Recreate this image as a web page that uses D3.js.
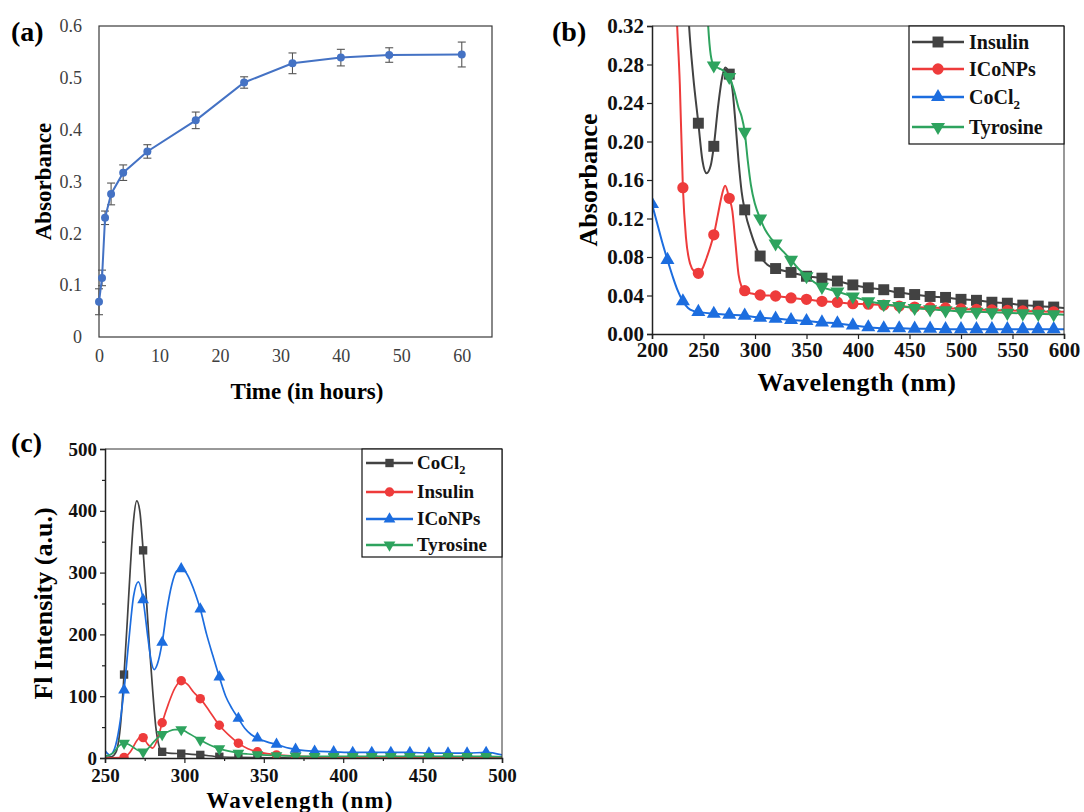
<!DOCTYPE html>
<html>
<head>
<meta charset="utf-8">
<script src="https://cdn.jsdelivr.net/npm/d3@7"></script>
<style>
  body { margin: 0; background: #fff; }
  text { font-family: "Liberation Serif", "Times New Roman", serif; }
</style>
</head>
<body>
<script>
// (a) absorbance vs time
const timeHours = [0, 0.5, 1, 2, 4, 8, 16, 24, 32, 40, 48, 60];
const absTime = [0.068, 0.114, 0.230, 0.276, 0.317, 0.358, 0.418, 0.491, 0.528, 0.539, 0.544, 0.545];
const absErr = [0.025, 0.015, 0.013, 0.021, 0.015, 0.013, 0.016, 0.011, 0.02, 0.016, 0.014, 0.024];
const timeTicks = [0, 10, 20, 30, 40, 50, 60];
const absTimeTicks = [0, 0.1, 0.2, 0.3, 0.4, 0.5, 0.6];

// (b) UV-vis spectra
const uvInsulinWl = [230, 233, 236, 240, 245, 249, 253, 257, 260, 264, 268, 271, 275, 278, 281, 284, 287, 290, 297, 305, 312, 320, 335, 350, 365, 380, 395, 410, 425, 440, 455, 470, 485, 500, 515, 530, 545, 560, 575, 590, 600];
const uvInsulinAbs = [0.46, 0.38, 0.32, 0.268, 0.219, 0.18, 0.167, 0.175, 0.195, 0.235, 0.266, 0.277, 0.27, 0.255, 0.22, 0.18, 0.148, 0.129, 0.102, 0.081, 0.072, 0.068, 0.064, 0.06, 0.058, 0.055, 0.051, 0.048, 0.046, 0.043, 0.041, 0.039, 0.038, 0.036, 0.035, 0.033, 0.032, 0.030, 0.029, 0.028, 0.027];
const uvIconpWl = [221, 224, 227, 230, 233, 237, 241, 245, 249, 253, 257, 260, 264, 268, 271, 275, 278, 281, 284, 287, 290, 297, 305, 320, 335, 350, 365, 380, 395, 410, 425, 440, 455, 470, 485, 500, 515, 530, 545, 560, 575, 590, 600];
const uvIconpAbs = [0.42, 0.33, 0.26, 0.152, 0.1, 0.073, 0.065, 0.063, 0.068, 0.079, 0.092, 0.103, 0.124, 0.145, 0.154, 0.141, 0.128, 0.095, 0.062, 0.049, 0.045, 0.042, 0.0405, 0.0395, 0.0375, 0.036, 0.034, 0.033, 0.0315, 0.031, 0.030, 0.029, 0.028, 0.0275, 0.027, 0.026, 0.0255, 0.025, 0.0245, 0.024, 0.0235, 0.023, 0.023];
const uvCoclWl = [200, 205, 210, 215, 220, 225, 230, 235, 240, 245, 260, 275, 290, 305, 320, 335, 350, 365, 380, 395, 410, 425, 440, 455, 470, 485, 500, 515, 530, 545, 560, 575, 590, 600];
const uvCoclAbs = [0.135, 0.115, 0.095, 0.077, 0.06, 0.045, 0.034, 0.027, 0.024, 0.023, 0.021, 0.020, 0.019, 0.017, 0.016, 0.0145, 0.0135, 0.012, 0.011, 0.009, 0.007, 0.006, 0.006, 0.0055, 0.0055, 0.005, 0.005, 0.005, 0.005, 0.005, 0.005, 0.005, 0.005, 0.005];
const uvTyrWl = [250, 254, 257, 260, 265, 270, 275, 280, 284, 287, 290, 293, 296, 300, 305, 310, 315, 320, 328, 335, 342, 350, 365, 380, 395, 410, 425, 440, 455, 470, 485, 500, 515, 530, 545, 560, 575, 590, 600];
const uvTyrAbs = [0.44, 0.33, 0.29, 0.279, 0.276, 0.273, 0.267, 0.252, 0.235, 0.226, 0.21, 0.18, 0.155, 0.135, 0.12, 0.108, 0.1, 0.094, 0.085, 0.077, 0.068, 0.06, 0.049, 0.044, 0.039, 0.034, 0.031, 0.029, 0.027, 0.0256, 0.0246, 0.0235, 0.023, 0.0225, 0.022, 0.0215, 0.021, 0.0205, 0.02];
const uvMarkWl = [200, 215, 230, 245, 260, 275, 290, 305, 320, 335, 350, 365, 380, 395, 410, 425, 440, 455, 470, 485, 500, 515, 530, 545, 560, 575, 590];
const uvWlTicks = [200, 250, 300, 350, 400, 450, 500, 550, 600];
const uvAbsTicks = [0, 0.04, 0.08, 0.12, 0.16, 0.20, 0.24, 0.28, 0.32];

// (c) fluorescence spectra
const flCoclWl = [250, 254, 257, 260, 262, 264, 266, 268, 270, 272, 274, 276, 278, 280, 282, 284, 286, 290, 298, 310, 322, 334, 346, 358, 370, 382, 394, 406, 418, 430, 442, 454, 466, 478, 490, 500];
const flCocl = [1, 2, 10, 60, 135, 220, 310, 385, 416, 398, 336, 260, 180, 110, 50, 20, 10, 8, 7, 5, 2, 1, 0.5, 0.3, 0, 0, 0, 0, 0, 0, 0, 0, 0, 0, 0, 0];
const flInsulinWl = [250, 262, 266, 270, 273, 274, 277, 280, 283, 286, 290, 294, 298, 302, 306, 310, 316, 322, 328, 334, 340, 346, 352, 358, 370, 382, 394, 406, 418, 430, 442, 454, 466, 478, 490, 500];
const flInsulin = [0, 1, 10, 28, 35, 33, 22, 16, 30, 57, 88, 113, 125, 119, 106, 96, 75, 53, 37, 24, 15, 10, 7, 5, 3, 2, 1.5, 1.5, 1.5, 1.5, 1.5, 1.5, 1.5, 1.5, 1.5, 1];
const flIconpWl = [250, 253, 256, 259, 262, 265, 268, 271, 274, 277, 279, 281, 283, 286, 289, 292, 295, 298, 301, 304, 307, 310, 314, 318, 322, 326, 330, 334, 338, 342, 346, 352, 358, 364, 370, 376, 382, 394, 406, 418, 430, 442, 454, 466, 478, 490, 500];
const flIconp = [12, 5, 15, 50, 110, 190, 262, 285, 256, 195, 158, 143, 152, 187, 240, 280, 302, 306, 300, 285, 265, 241, 200, 165, 131, 100, 80, 64, 48, 38, 32, 26, 22, 17, 14, 12, 11, 10, 9, 9, 9, 9, 8, 8, 8, 9, 5];
const flTyrWl = [250, 255, 259, 262, 265, 268, 271, 274, 277, 280, 283, 286, 290, 294, 298, 302, 306, 310, 316, 322, 328, 334, 340, 346, 358, 370, 382, 394, 406, 418, 430, 442, 454, 466, 478, 490, 500];
const flTyr = [3, 8, 20, 24, 22, 17, 12, 10, 15, 24, 32, 38, 43, 46, 46, 41, 35, 29, 21, 15, 11, 8, 6.5, 5.5, 4, 3, 2.5, 2.5, 2.5, 2.5, 2.5, 2.5, 2.5, 2.5, 2.5, 2.5, 2];
const flMarkWl = [262, 274, 286, 298, 310, 322, 334, 346, 358, 370, 382, 394, 406, 418, 430, 442, 454, 466, 478, 490];
const flWlTicks = [250, 300, 350, 400, 450, 500];
const flWlMinor = [275, 325, 375, 425, 475];
const flTicks = [0, 100, 200, 300, 400, 500];
const flMinor = [50, 150, 250, 350, 450];

const svg = d3.select('body').append('svg')
  .attr('width', 1084).attr('height', 812)
  .style('background', '#fff');

const zip = (xs, ys) => xs.map((x, i) => ({ x: x, y: ys[i] }));

// symbols
function marker(g, type, x, y, size, color) {
  let sym = d3.symbolCircle, rot = 0;
  if (type === 'square') sym = d3.symbolSquare;
  if (type === 'up') sym = d3.symbolTriangle;
  if (type === 'down') { sym = d3.symbolTriangle; rot = 180; }
  g.append('path')
    .attr('d', d3.symbol().type(sym).size(size)())
    .attr('transform', 'translate(' + x + ',' + y + ') rotate(' + rot + ')')
    .attr('fill', color);
}

function seriesName(sel, name, size) {
  if (name === 'CoCl2') {
    sel.append('tspan').text('CoCl');
    sel.append('tspan').text('2').attr('font-size', size * 0.65).attr('dy', 5);
  } else {
    sel.text(name);
  }
}

// ---------------- (a) ----------------
const pa = { left: 99, right: 492, top: 26, bottom: 337 };
const xA = d3.scaleLinear().domain([0, 65]).range([pa.left, pa.right]);
const yA = d3.scaleLinear().domain([0, 0.6]).range([pa.bottom, pa.top]);

svg.append('rect')
  .attr('x', pa.left).attr('y', pa.top)
  .attr('width', pa.right - pa.left).attr('height', pa.bottom - pa.top)
  .attr('fill', 'none').attr('stroke', '#3a3a3a').attr('stroke-width', 1.2);

const axA_y = svg.append('g')
  .attr('transform', 'translate(' + pa.left + ',0)')
  .call(d3.axisLeft(yA).tickValues(absTimeTicks).tickSize(0).tickPadding(17).tickFormat(d3.format('')));
const axA_x = svg.append('g')
  .attr('transform', 'translate(0,' + pa.bottom + ')')
  .call(d3.axisBottom(xA).tickValues(timeTicks).tickSize(0).tickPadding(12));
[axA_y, axA_x].forEach(function(ax) {
  ax.select('.domain').remove();
  ax.selectAll('text').attr('font-size', 18).attr('fill', '#404040')
    .attr('font-family', '"Liberation Serif", serif');
});

const dataA = timeHours.map((t, i) => ({ x: t, y: absTime[i], e: absErr[i] }));
const errA = svg.append('g').attr('stroke', '#555').attr('stroke-width', 1.1);
dataA.forEach(function(d) {
  const x = xA(d.x);
  errA.append('line').attr('x1', x).attr('x2', x).attr('y1', yA(d.y - d.e)).attr('y2', yA(d.y + d.e));
  errA.append('line').attr('x1', x - 4).attr('x2', x + 4).attr('y1', yA(d.y - d.e)).attr('y2', yA(d.y - d.e));
  errA.append('line').attr('x1', x - 4).attr('x2', x + 4).attr('y1', yA(d.y + d.e)).attr('y2', yA(d.y + d.e));
});
svg.append('path').datum(dataA)
  .attr('d', d3.line().x(d => xA(d.x)).y(d => yA(d.y)))
  .attr('fill', 'none').attr('stroke', '#4472C4').attr('stroke-width', 2);
svg.append('g').selectAll('circle').data(dataA).enter().append('circle')
  .attr('cx', d => xA(d.x)).attr('cy', d => yA(d.y)).attr('r', 4)
  .attr('fill', '#4472C4');

svg.append('text').attr('x', 11).attr('y', 41).text('(a)')
  .attr('font-size', 28).attr('font-weight', 'bold');
svg.append('text')
  .attr('transform', 'translate(51,' + ((pa.top + pa.bottom) / 2) + ') rotate(-90)')
  .attr('text-anchor', 'middle').attr('font-size', 23).attr('font-weight', 'bold')
  .text('Absorbance');
svg.append('text').attr('x', 307).attr('y', 399).attr('text-anchor', 'middle')
  .attr('font-size', 23).attr('font-weight', 'bold').text('Time (in hours)');

// -------- shared spectrum panel --------
function spectrumPanel(p, xDomain, yDomain, xTicks, yTicks, yFmt, series, markWl, opts) {
  const x = d3.scaleLinear().domain(xDomain).range([p.left, p.right]);
  const y = d3.scaleLinear().domain(yDomain).range([p.bottom, p.top]);
  const clipId = 'clip' + opts.id;
  svg.append('clipPath').attr('id', clipId).append('rect')
    .attr('x', p.left).attr('y', p.top)
    .attr('width', p.right - p.left).attr('height', p.bottom - p.top);

  const plot = svg.append('g').attr('clip-path', 'url(#' + clipId + ')');
  series.forEach(function(s) {
    const pts = zip(s.wl, s.v);
    plot.append('path').datum(pts)
      .attr('d', d3.line().x(d => x(d.x)).y(d => y(d.y)).curve(d3.curveMonotoneX))
      .attr('fill', 'none').attr('stroke', s.color).attr('stroke-width', opts.lw);
    pts.filter(d => markWl.indexOf(d.x) >= 0).forEach(function(d) {
      marker(plot, s.shape, x(d.x), y(d.y), opts.msize[s.shape], s.color);
    });
  });

  // frame: top and right
  svg.append('line').attr('x1', p.left).attr('x2', p.right).attr('y1', p.top).attr('y2', p.top)
    .attr('stroke', '#333').attr('stroke-width', 1);
  svg.append('line').attr('x1', p.right).attr('x2', p.right).attr('y1', p.top).attr('y2', p.bottom)
    .attr('stroke', '#333').attr('stroke-width', 1);

  if (opts.xMinor) {
    svg.append('g').attr('transform', 'translate(0,' + p.bottom + ')')
      .call(d3.axisBottom(x).tickValues(opts.xMinor).tickSize(3).tickFormat(''))
      .call(g => g.select('.domain').remove());
    svg.append('g').attr('transform', 'translate(' + p.left + ',0)')
      .call(d3.axisLeft(y).tickValues(opts.yMinor).tickSize(3).tickFormat(''))
      .call(g => g.select('.domain').remove());
  }
  const ax = svg.append('g').attr('transform', 'translate(0,' + p.bottom + ')')
    .call(d3.axisBottom(x).tickValues(xTicks).tickSize(5).tickPadding(opts.xPad).tickFormat(d3.format('d')));
  const ay = svg.append('g').attr('transform', 'translate(' + p.left + ',0)')
    .call(d3.axisLeft(y).tickValues(yTicks).tickSize(5).tickPadding(3).tickFormat(yFmt));
  [ax, ay].forEach(function(a) {
    a.select('.domain').attr('stroke', '#222').attr('stroke-width', 1.5);
    a.selectAll('text').attr('font-size', opts.tfs).attr('font-weight', 'bold').attr('fill', '#111')
      .attr('font-family', '"Liberation Serif", serif');
  });
  svg.selectAll('g.tick line').attr('stroke', '#222').attr('stroke-width', 1.2);

  // legend
  const lg = opts.legend;
  svg.append('rect').attr('x', lg.x0).attr('y', p.top)
    .attr('width', p.right - lg.x0).attr('height', lg.y1 - p.top)
    .attr('fill', '#fff').attr('stroke', '#111').attr('stroke-width', 1.2);
  series.forEach(function(s, k) {
    const ly = lg.rows[k];
    svg.append('line').attr('x1', lg.lx0).attr('x2', lg.lx1).attr('y1', ly).attr('y2', ly)
      .attr('stroke', s.color).attr('stroke-width', opts.lw + 0.6);
    marker(svg, s.shape, (lg.lx0 + lg.lx1) / 2, ly, opts.msize[s.shape], s.color);
    const t = svg.append('text').attr('x', lg.tx).attr('y', ly + lg.fs * 0.33)
      .attr('font-size', lg.fs).attr('font-weight', 'bold').attr('fill', '#111');
    seriesName(t, s.name, lg.fs);
  });
  return { x: x, y: y };
}

// ---------------- (b) ----------------
const pb = { left: 652, right: 1064, top: 26, bottom: 334 };
spectrumPanel(pb, [200, 600], [0, 0.32], uvWlTicks, uvAbsTicks, d3.format('.2f'), [
  { name: 'Insulin', wl: uvInsulinWl, v: uvInsulinAbs, color: '#424242', shape: 'square' },
  { name: 'ICoNPs', wl: uvIconpWl, v: uvIconpAbs, color: '#ee3b3b', shape: 'circle' },
  { name: 'CoCl2', wl: uvCoclWl, v: uvCoclAbs, color: '#1c6ddf', shape: 'up' },
  { name: 'Tyrosine', wl: uvTyrWl, v: uvTyrAbs, color: '#2ea35e', shape: 'down' }
], uvMarkWl, {
  id: 'b', lw: 2, tfs: 21, xPad: 3, msize: { square: 120, circle: 100, up: 85, down: 85 },
  legend: { x0: 909, y1: 144, rows: [42, 69, 97, 127], lx0: 912, lx1: 964, tx: 969, fs: 20 }
});
svg.append('text').attr('x', 552).attr('y', 41).text('(b)')
  .attr('font-size', 28).attr('font-weight', 'bold');
svg.append('text')
  .attr('transform', 'translate(597,' + ((pb.top + pb.bottom) / 2) + ') rotate(-90)')
  .attr('text-anchor', 'middle').attr('font-size', 26).attr('font-weight', 'bold')
  .text('Absorbance');
svg.append('text').attr('x', 857).attr('y', 391).attr('text-anchor', 'middle')
  .attr('font-size', 26).attr('font-weight', 'bold').attr('letter-spacing', 0.5)
  .text('Wavelength (nm)');

// ---------------- (c) ----------------
const pc = { left: 105, right: 502, top: 449, bottom: 758 };
spectrumPanel(pc, [250, 500], [0, 500], flWlTicks, flTicks, d3.format('d'), [
  { name: 'CoCl2', wl: flCoclWl, v: flCocl, color: '#424242', shape: 'square' },
  { name: 'Insulin', wl: flInsulinWl, v: flInsulin, color: '#ee3b3b', shape: 'circle' },
  { name: 'ICoNPs', wl: flIconpWl, v: flIconp, color: '#1c6ddf', shape: 'up' },
  { name: 'Tyrosine', wl: flTyrWl, v: flTyr, color: '#2ea35e', shape: 'down' }
], flMarkWl, {
  id: 'c', lw: 1.7, tfs: 19, xPad: 6, msize: { square: 70, circle: 70, up: 60, down: 60 },
  xMinor: flWlMinor, yMinor: flMinor,
  legend: { x0: 362, y1: 557, rows: [463, 492, 519, 545], lx0: 366, lx1: 413, tx: 417, fs: 19 }
});
svg.append('text').attr('x', 11).attr('y', 452).text('(c)')
  .attr('font-size', 28).attr('font-weight', 'bold');
svg.append('text')
  .attr('transform', 'translate(52,' + ((pc.top + pc.bottom) / 2) + ') rotate(-90)')
  .attr('text-anchor', 'middle').attr('font-size', 26).attr('font-weight', 'bold')
  .text('Fl Intensity (a.u.)');
svg.append('text').attr('x', 300).attr('y', 808).attr('text-anchor', 'middle')
  .attr('font-size', 23).attr('font-weight', 'bold').attr('letter-spacing', 1.2)
  .text('Wavelength (nm)');
</script>
</body>
</html>
